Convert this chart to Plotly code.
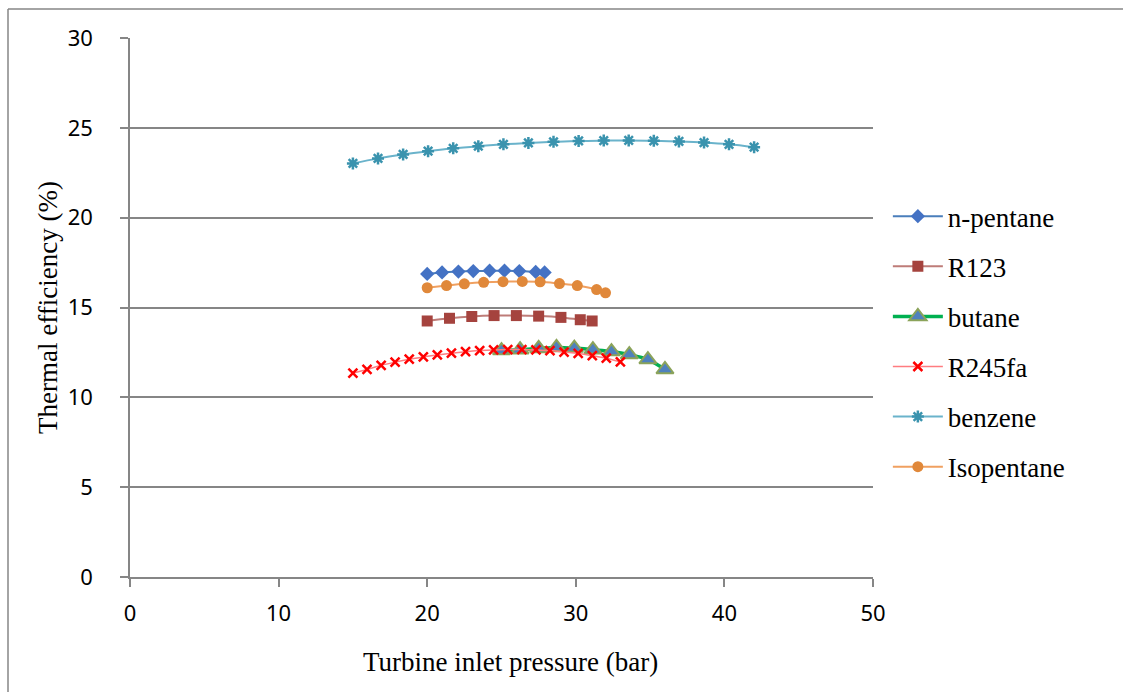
import plotly.graph_objects as go

# ---- data ----
npentane_x = [20.0, 21.0, 22.1, 23.1, 24.2, 25.2, 26.2, 27.3, 27.9]
npentane_y = [16.87, 16.95, 17.0, 17.03, 17.05, 17.05, 17.03, 16.98, 16.95]

r123_x = [20.0, 21.5, 23.0, 24.5, 26.0, 27.5, 29.0, 30.3, 31.1]
r123_y = [14.25, 14.4, 14.5, 14.55, 14.55, 14.52, 14.45, 14.32, 14.25]

butane_x = [25.0, 26.25, 27.5, 28.7, 29.9, 31.15, 32.4, 33.6, 34.85, 36.0]
butane_y = [12.6, 12.65, 12.72, 12.78, 12.74, 12.65, 12.55, 12.38, 12.1, 11.55]

r245fa_x = [15.0, 15.95, 16.9, 17.84, 18.79, 19.74, 20.68, 21.63, 22.58, 23.53,
            24.47, 25.42, 26.37, 27.32, 28.26, 29.21, 30.16, 31.11, 32.05, 33.0]
r245fa_y = [11.35, 11.55, 11.78, 11.96, 12.12, 12.25, 12.36, 12.46, 12.54, 12.6,
            12.64, 12.66, 12.66, 12.64, 12.6, 12.52, 12.44, 12.32, 12.18, 11.98]

benzene_x = [15.0, 16.69, 18.38, 20.06, 21.75, 23.44, 25.13, 26.81, 28.5, 30.19,
             31.88, 33.56, 35.25, 36.94, 38.63, 40.31, 42.0]
benzene_y = [23.02, 23.3, 23.52, 23.7, 23.86, 23.98, 24.08, 24.16, 24.22, 24.27,
             24.29, 24.3, 24.28, 24.24, 24.18, 24.08, 23.92]

isopentane_x = [20.0, 21.3, 22.5, 23.8, 25.1, 26.4, 27.6, 28.9, 30.1, 31.4, 32.0]
isopentane_y = [16.1, 16.22, 16.32, 16.4, 16.44, 16.45, 16.43, 16.33, 16.22, 16.0, 15.82]

x_ticks = [0, 10, 20, 30, 40, 50]
y_ticks = [0, 5, 10, 15, 20, 25, 30]

x_title = "Turbine inlet pressure (bar)"
y_title = "Thermal efficiency (%)"

serif = "Liberation Serif, Times New Roman, serif"
sans = "Noto Sans, Open Sans, sans-serif"

fig = go.Figure()

series = [
    ("n-pentane", npentane_x, npentane_y, dict(color="#4A7EBB", width=2),
     dict(symbol="diamond", size=11, color="#4472C4", line=dict(width=0))),
    ("R123", r123_x, r123_y, dict(color="#BE7C78", width=2),
     dict(symbol="square", size=11, color="#A5433E", line=dict(width=0))),
    ("butane", butane_x, butane_y, dict(color="#00B050", width=3.5),
     dict(symbol="triangle-up", size=15, color="#4F81BD", line=dict(width=2, color="#8BA35A"))),
    ("R245fa", r245fa_x, r245fa_y, dict(color="#FF7C80", width=1.5),
     dict(symbol="x-thin", size=9, color="#FF0000", line=dict(width=2.5, color="#FF0000"))),
    ("benzene", benzene_x, benzene_y, dict(color="#6AB3CB", width=2),
     dict(symbol="asterisk", size=10, color="#3A93AE", line=dict(width=2.5, color="#3A93AE"))),
    ("Isopentane", isopentane_x, isopentane_y, dict(color="#F0A060", width=2),
     dict(symbol="circle", size=11, color="#E0883A", line=dict(width=0))),
]

for i, (name, xs, ys, ln, mk) in enumerate(series):
    fig.add_trace(go.Scatter(x=xs, y=ys, name=name, mode="lines+markers",
                             line=dict(shape="spline", **ln), marker=mk,
                             legendgroup=f"g{i}"))

fig.update_layout(
    width=1123, height=692,
    margin=dict(l=130, r=250, t=38, b=115),
    paper_bgcolor="white", plot_bgcolor="white",
    showlegend=True,
    legend=dict(x=1.02, y=0.714, xanchor="left", yanchor="top",
                font=dict(family=serif, size=27, color="black"),
                tracegroupgap=12, itemwidth=50, traceorder="grouped"),
    xaxis=dict(range=[0, 50], tickvals=x_ticks, showgrid=False, zeroline=False,
               showline=True, linecolor="#868686", linewidth=1.5,
               ticks="outside", ticklen=8, tickcolor="#868686", tickwidth=1.5,
               tickfont=dict(family=sans, size=22, color="black"),
               ticklabelstandoff=8),
    yaxis=dict(range=[0, 30], tickvals=y_ticks, showgrid=True, gridcolor="#868686",
               gridwidth=1.5, zeroline=False,
               showline=True, linecolor="#868686", linewidth=1.5,
               ticks="outside", ticklen=8, tickcolor="#868686", tickwidth=1.5,
               tickfont=dict(family=sans, size=22, color="black"),
               ticklabelstandoff=23,
               title=dict(text=y_title, font=dict(family=serif, size=27, color="black"),
                          standoff=2)),
    annotations=[dict(text=x_title, xref="paper", yref="paper",
                      x=(510 - 130) / 743, y=(577 - 662) / 539,
                      xanchor="center", yanchor="middle", showarrow=False,
                      font=dict(family=serif, size=27, color="black"))],
)

# outer chart-area border (left and top edges visible)
fig.add_shape(type="line", xref="paper", yref="paper",
              x0=(8 - 130) / 743, x1=(8 - 130) / 743, y0=(577 - 692) / 539, y1=(577 - 9) / 539,
              line=dict(color="#868686", width=1.5))
fig.add_shape(type="line", xref="paper", yref="paper",
              x0=(8 - 130) / 743, x1=(1123 - 130) / 743, y0=(577 - 9) / 539, y1=(577 - 9) / 539,
              line=dict(color="#868686", width=1.5))

fig.write_html("out.html", config={"displayModeBar": False},
               post_script="document.body.style.margin='0';document.body.style.overflow='hidden';"
                           "document.documentElement.style.overflow='hidden';")
